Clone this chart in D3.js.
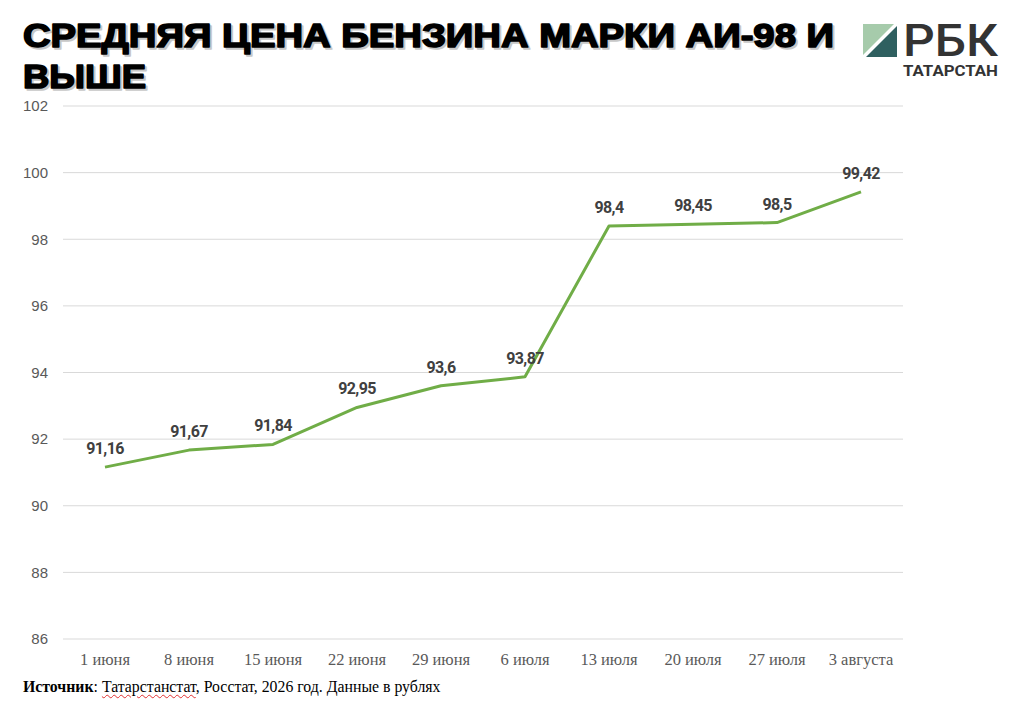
<!DOCTYPE html>
<html>
<head>
<meta charset="utf-8">
<script src="https://cdn.jsdelivr.net/npm/d3@7"></script>
<style>
  body { margin: 0; background: #fff; }
  #chart { position: relative; width: 1023px; height: 715px; }
  .source {
    position: absolute; left: 23px; top: 678px;
    font-family: "Liberation Serif", serif; font-size: 15.8px; color: #000;
    white-space: nowrap;
  }
  .source .spell { text-decoration: underline wavy #e03030; text-decoration-thickness: 1px; text-underline-offset: 2px; }
</style>
</head>
<body>
<div id="chart"></div>
<script>
const dates = ["1 июня", "8 июня", "15 июня", "22 июня", "29 июня", "6 июля", "13 июля", "20 июля", "27 июля", "3 августа"]
const prices = [91.16, 91.67, 91.84, 92.95, 93.6, 93.87, 98.4, 98.45, 98.5, 99.42]
const yTicks = [86, 88, 90, 92, 94, 96, 98, 100, 102]
const titleLines = ["СРЕДНЯЯ ЦЕНА БЕНЗИНА МАРКИ АИ-98 И", "ВЫШЕ"]

const width = 1023
const height = 715
const margin = {top: 106, right: 120, bottom: 76, left: 63}

const chart = d3.select("#chart")
const svg = chart.append("svg")
  .attr("width", width)
  .attr("height", height)

const x = d3.scaleBand()
  .domain(dates)
  .range([margin.left, width - margin.right])

const y = d3.scaleLinear()
  .domain([86, 102])
  .range([height - margin.bottom, margin.top])

// gridlines
svg.append("g")
  .selectAll("line")
  .data(yTicks)
  .join("line")
    .attr("x1", margin.left)
    .attr("x2", width - margin.right)
    .attr("y1", d => y(d))
    .attr("y2", d => y(d))
    .attr("stroke", "#d9d9d9")
    .attr("stroke-width", 1)

// y axis labels
const yAxis = svg.append("g")
  .attr("transform", `translate(${margin.left - 15},0)`)
  .call(d3.axisLeft(y).tickValues(yTicks).tickSize(0).tickPadding(0))
yAxis.select(".domain").remove()
yAxis.selectAll("text")
  .attr("font-family", "Liberation Sans, Arial, sans-serif")
  .attr("font-size", 15)
  .attr("fill", "#595959")

// x axis labels
const xAxis = svg.append("g")
  .attr("transform", `translate(0,${height - margin.bottom + 14})`)
  .call(d3.axisBottom(x).tickSize(0).tickPadding(0))
xAxis.select(".domain").remove()
xAxis.selectAll("text")
  .attr("font-family", "Liberation Serif, Times New Roman, serif")
  .attr("font-size", 16.5)
  .attr("fill", "#595959")

// line
const cx = d => x(d) + x.bandwidth() / 2
const line = d3.line()
  .x((d, i) => cx(dates[i]))
  .y(d => y(d))

svg.append("path")
  .datum(prices)
  .attr("d", line)
  .attr("fill", "none")
  .attr("stroke", "#70ad47")
  .attr("stroke-width", 3)
  .attr("stroke-linejoin", "round")

// data labels
const fmt = d => String(d).replace(".", ",")
svg.append("g")
  .selectAll("text")
  .data(prices)
  .join("text")
    .attr("x", (d, i) => cx(dates[i]))
    .attr("y", d => y(d) - 13)
    .attr("text-anchor", "middle")
    .attr("font-family", "Roboto, sans-serif")
    .attr("font-weight", 700)
    .attr("font-size", 16)
    .attr("letter-spacing", -0.6)
    .attr("fill", "#404040")
    .text(fmt)

// title, with a soft grey shadow under it
const title = svg.append("g")
titleLines.forEach((t, i) => {
  const ty = 47 + i * 41
  ;[["#c8c8c8", 2], ["#000", 0]].forEach(([c, off]) => {
    title.append("text")
      .attr("x", 23 + off)
      .attr("y", ty + off)
      .attr("font-family", "Liberation Sans, Arial, sans-serif")
      .attr("font-weight", 700)
      .attr("font-size", 33)
      .attr("fill", c)
      .attr("stroke", c)
      .attr("stroke-width", 1.6)
      .attr("stroke-linejoin", "round")
      .attr("textLength", i === 0 ? 811 : 123)
      .attr("lengthAdjust", "spacingAndGlyphs")
      .text(t)
  })
})

// logo
const logo = svg.append("g").attr("transform", "translate(863,24)")
logo.append("path").attr("d", "M0,0 H31 L0,31 Z").attr("fill", "#a6cbab")
logo.append("path").attr("d", "M34,2 V33 H3 Z").attr("fill", "#2f6060")
// big letters drawn smaller and stretched tall, so their box stays clear of the line below
logo.append("text")
  .attr("transform", "translate(40,32) scale(1,1.45)")
  .attr("font-family", "Roboto, sans-serif")
  .attr("font-weight", 500)
  .attr("font-size", 31)
  .attr("fill", "#333")
  .attr("textLength", 95)
  .attr("lengthAdjust", "spacingAndGlyphs")
  .text("РБК")
logo.append("text")
  .attr("x", 40).attr("y", 52)
  .attr("font-family", "Roboto, sans-serif")
  .attr("font-weight", 700)
  .attr("font-size", 15)
  .attr("fill", "#333")
  .attr("textLength", 95)
  .attr("lengthAdjust", "spacingAndGlyphs")
  .text("ТАТАРСТАН")

// source
chart.append("div")
  .attr("class", "source")
  .html('<b>Источник</b>: <span class="spell">Татарстанстат</span>, Росстат, 2026 год. Данные в рублях')
</script>
</body>
</html>
